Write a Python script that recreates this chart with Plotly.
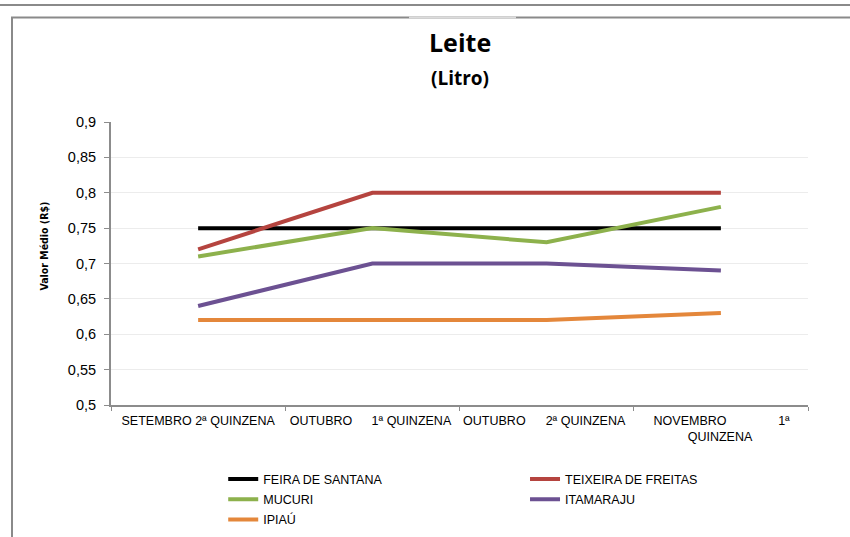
import plotly.graph_objects as go

# categories (index positions on the x axis) and values
quinzenas = ["SETEMBRO 2ª QUINZENA", "OUTUBRO 1ª QUINZENA",
             "OUTUBRO 2ª QUINZENA", "NOVEMBRO 1ª QUINZENA"]
feira_de_santana = [0.75, 0.75, 0.75, 0.75]
teixeira_de_freitas = [0.72, 0.80, 0.80, 0.80]
mucuri = [0.71, 0.75, 0.73, 0.78]
itamaraju = [0.64, 0.70, 0.70, 0.69]
ipiau = [0.62, 0.62, 0.62, 0.63]

# the x labels are broken up oddly in the original, keep that look
label_pos = [0, 0.705, 1.224, 1.70, 2.223, 2.823, 2.995, 3.362]
label_txt = ["SETEMBRO 2ª QUINZENA", "OUTUBRO", "1ª QUINZENA", "OUTUBRO",
             "2ª QUINZENA", "NOVEMBRO", "&#160;<br>QUINZENA", "1ª"]

xs = list(range(len(quinzenas)))
font = "Liberation Sans, Arial, sans-serif"

series = [
    ("FEIRA DE SANTANA", feira_de_santana, "#000000", "legend"),
    ("TEIXEIRA DE FREITAS", teixeira_de_freitas, "#b5443f", "legend2"),
    ("MUCURI", mucuri, "#8db14c", "legend"),
    ("ITAMARAJU", itamaraju, "#6c5192", "legend2"),
    ("IPIAÚ", ipiau, "#e4873b", "legend"),
]

fig = go.Figure()
for name, vals, color, lg in series:
    fig.add_trace(go.Scatter(x=xs, y=vals, name=name, mode="lines",
                             line=dict(color=color, width=4), legend=lg,
                             legendgroup=name))

# dummy trace to carry the second x axis (labels only)
fig.add_trace(go.Scatter(x=[-0.5, 3.5], y=[None, None], xaxis="x2",
                         showlegend=False, hoverinfo="skip"))

fig.update_layout(
    width=850, height=537,
    margin=dict(l=111, r=42, t=122, b=132, autoexpand=False),
    paper_bgcolor="white", plot_bgcolor="white",
    separators=",.",
    font=dict(family=font, size=12.5, color="#000000"),
    xaxis=dict(range=[-0.5, 3.5], tickvals=[-0.5, 0.5, 1.5, 2.5, 3.5],
               ticktext=["", "", "", "", ""], showgrid=False, zeroline=False,
               showline=True, linecolor="#8c8c8c", linewidth=2,
               ticks="outside", ticklen=4, tickcolor="#8c8c8c"),
    xaxis2=dict(range=[-0.5, 3.5], overlaying="x", side="bottom",
                tickvals=label_pos, ticktext=label_txt, showgrid=False,
                zeroline=False, showline=False, ticks="", tickangle=0,
                tickfont=dict(size=12.5), ticklabelstandoff=6),
    yaxis=dict(range=[0.5, 0.9], dtick=0.05, tick0=0.5,
               showgrid=True, gridcolor="#ececec", gridwidth=1,
               zeroline=False, showline=True, linecolor="#8c8c8c",
               linewidth=2, ticks="outside", ticklen=5, tickcolor="#8c8c8c",
               tickfont=dict(size=14.5), ticklabelstandoff=5),
    legend=dict(x=0.161, y=-0.21, xanchor="left", yanchor="top",
                orientation="v", font=dict(size=12.5), tracegroupgap=1,
                bgcolor="rgba(0,0,0,0)"),
    legend2=dict(x=0.594, y=-0.21, xanchor="left", yanchor="top",
                 orientation="v", font=dict(size=12.5), tracegroupgap=1,
                 bgcolor="rgba(0,0,0,0)"),
    showlegend=True,
)

# titles
fig.add_annotation(text="<b>Leite</b>", xref="paper", yref="paper",
                   x=0.5, y=(405 - 61) / 283, yanchor="bottom", showarrow=False,
                   font=dict(family="Open Sans, sans-serif", size=25))
fig.add_annotation(text="<b>(Litro)</b>", xref="paper", yref="paper",
                   x=0.5, y=(405 - 63) / 283, yanchor="top", showarrow=False,
                   font=dict(family="Open Sans, sans-serif", size=19))
fig.add_annotation(text="<b>Valor Médio (R$)</b>", xref="paper", yref="paper",
                   x=(35 - 111) / 697, y=(405 - 246.5) / 283, textangle=-90,
                   showarrow=False,
                   font=dict(family="DejaVu Sans Condensed, Liberation Sans Narrow, sans-serif",
                             size=10.5))

# page frame lines
fig.add_shape(type="line", xref="paper", yref="paper",
              x0=-0.2, x1=1.1, y0=(405 - 5) / 283, y1=(405 - 5) / 283,
              line=dict(color="#8a8a8a", width=2))
fig.add_shape(type="rect", xref="paper", yref="paper",
              x0=(12 - 111) / 697, x1=1.1, y0=-0.6, y1=(405 - 17.5) / 283,
              line=dict(color="#8a8a8a", width=2))
fig.add_shape(type="line", xref="paper", yref="paper",
              x0=(409 - 111) / 697, x1=(516 - 111) / 697,
              y0=(405 - 17.5) / 283, y1=(405 - 17.5) / 283,
              line=dict(color="#dcdcdc", width=2))

fig.write_html("out.html", config={"displayModeBar": False},
               post_script="document.body.style.margin='0';document.body.style.overflow='hidden';")
